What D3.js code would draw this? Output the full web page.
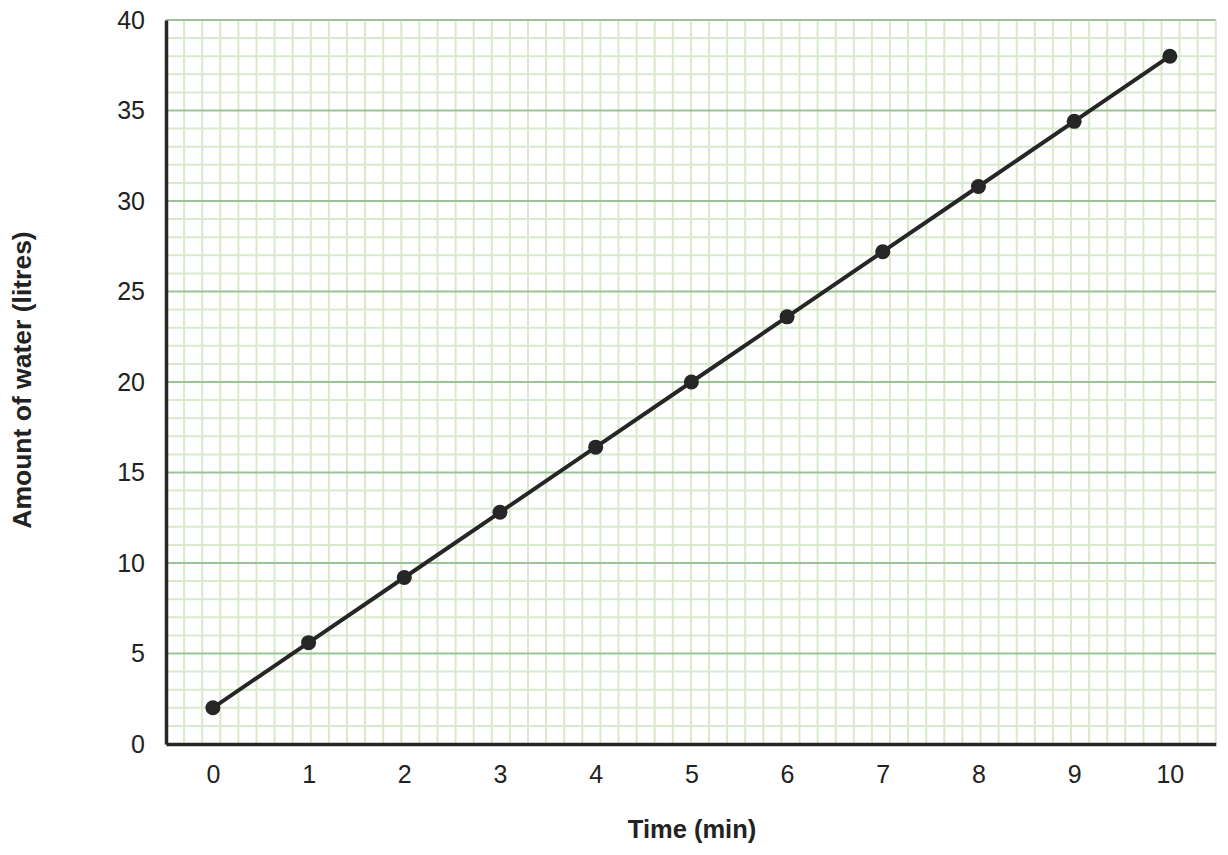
<!DOCTYPE html>
<html>
<head>
<meta charset="utf-8">
<script src="https://cdn.jsdelivr.net/npm/d3@7"></script>
<style>
  body { margin: 0; background: #fff; }
  text { font-family: "Liberation Sans", Arial, sans-serif; }
</style>
</head>
<body>
<div id="chart"></div>
<script>
const times = [0, 1, 2, 3, 4, 5, 6, 7, 8, 9, 10];
const water = [2, 5.6, 9.2, 12.8, 16.4, 20, 23.6, 27.2, 30.8, 34.4, 38];
const yTicks = [0, 5, 10, 15, 20, 25, 30, 35, 40];

const width = 1228, height = 855;
const plotL = 166, plotT = 20, plotH = 724, cell = plotH / 40, cols = 58;
const plotR = plotL + cols * cell, plotB = plotT + plotH;

const svg = d3.select("#chart").append("svg")
  .attr("width", width)
  .attr("height", height);

const x = d3.scaleLinear().domain([-0.49, 10.48]).range([plotL, plotR]);
const y = d3.scaleLinear().domain([0, 40]).range([plotB, plotT]);
// square graph-paper grid, independent of the time scale
const gx = d3.scaleLinear().domain([0, cols]).range([plotL, plotR]);

const grid = svg.append("g");
grid.selectAll("line.vx")
  .data(d3.range(1, cols + 1))
  .join("line")
  .attr("x1", d => gx(d)).attr("x2", d => gx(d))
  .attr("y1", plotT).attr("y2", plotB)
  .attr("stroke", "#d8e9cc").attr("stroke-width", 2);
grid.selectAll("line.hy")
  .data(d3.range(1, 41).filter(d => d % 5 !== 0))
  .join("line")
  .attr("x1", plotL).attr("x2", plotR)
  .attr("y1", d => y(d)).attr("y2", d => y(d))
  .attr("stroke", "#d8e9cc").attr("stroke-width", 2);
grid.selectAll("line.major")
  .data(yTicks.filter(d => d > 0))
  .join("line")
  .attr("x1", plotL).attr("x2", plotR)
  .attr("y1", d => y(d)).attr("y2", d => y(d))
  .attr("stroke", "#9cc397").attr("stroke-width", 2);

// axes
const yAxis = svg.append("g")
  .attr("transform", `translate(${plotL},0)`)
  .call(d3.axisLeft(y).tickValues(yTicks).tickSize(0).tickPadding(21));
const xAxis = svg.append("g")
  .attr("transform", `translate(0,${plotB})`)
  .call(d3.axisBottom(x).tickValues(times).tickSize(0).tickPadding(21));
[yAxis, xAxis].forEach(a => {
  a.select(".domain").attr("stroke", "#262626").attr("stroke-width", 3.5);
  a.selectAll("text")
    .attr("fill", "#222")
    .style("font-size", "25px")
    .style("font-family", "'Liberation Sans', Arial, sans-serif");
});

// data line and points
const line = d3.line().x((d, i) => x(times[i])).y(d => y(d));
svg.append("path")
  .datum(water)
  .attr("d", line)
  .attr("fill", "none")
  .attr("stroke", "#262626")
  .attr("stroke-width", 4);
svg.selectAll("circle.pt")
  .data(water)
  .join("circle")
  .attr("cx", (d, i) => x(times[i]))
  .attr("cy", d => y(d))
  .attr("r", 7.5)
  .attr("fill", "#262626");

// titles
svg.append("text")
  .attr("x", 692)
  .attr("y", 838)
  .attr("text-anchor", "middle")
  .attr("font-weight", "bold")
  .attr("font-size", 25.5)
  .attr("fill", "#222")
  .text("Time (min)");
svg.append("text")
  .attr("transform", `translate(31,380) rotate(-90)`)
  .attr("text-anchor", "middle")
  .attr("font-weight", "bold")
  .attr("font-size", 26.5)
  .attr("fill", "#222")
  .text("Amount of water (litres)");
</script>
</body>
</html>
